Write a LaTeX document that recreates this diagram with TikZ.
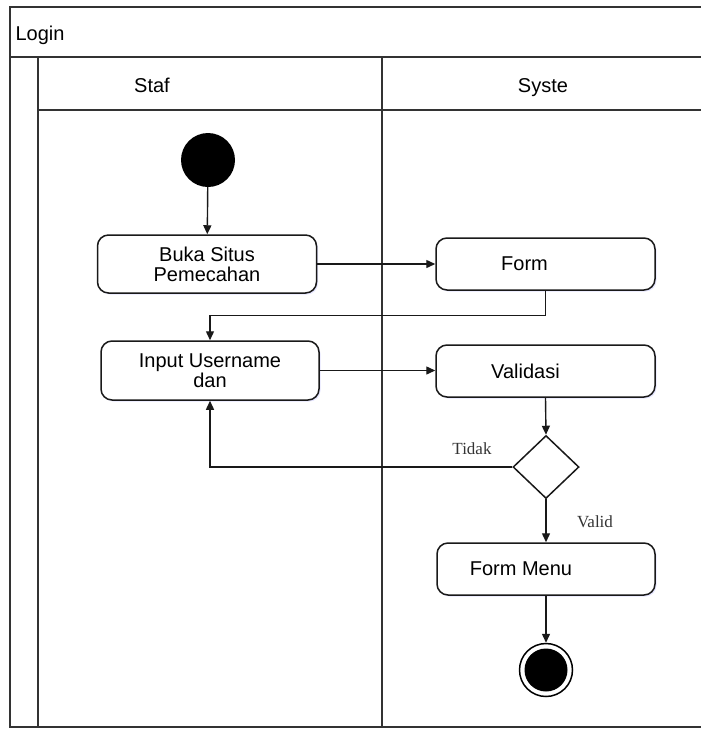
\documentclass[tikz,border=0pt]{standalone}
\usepackage{fontspec}
\setmainfont{Liberation Sans}
\newfontfamily\serifx{Liberation Serif}
\usetikzlibrary{shapes.geometric,arrows.meta,shadows}
\begin{document}
\begin{tikzpicture}[x=1pt,y=-1pt,
  frame/.style={line width=1.7pt,draw=black!80},
  act/.style={draw=black!90,line width=1.5pt,rounded corners=11pt,fill=white,
    drop shadow={shadow xshift=1.5pt,shadow yshift=-1.5pt,fill=blue!40,opacity=0.25},
    align=center,font=\fontsize{20}{20}\selectfont,inner sep=0pt},
  flow/.style={line width=1.4pt,draw=black!90,-{Triangle[length=9pt,width=8pt]}},
  lanetext/.style={font=\fontsize{20}{22}\selectfont,anchor=base},
  guard/.style={font=\serifx\fontsize{17}{18}\selectfont,text=black!80}
]
\useasboundingbox (0,0) rectangle (701,729);
% frame
\draw[frame] (701,7) -- (10,7) -- (10,727) -- (701,727);
\draw[frame] (10,57) -- (701,57);
\draw[frame] (38,57) -- (38,727);
\draw[frame] (38,110) -- (701,110);
\draw[frame] (382,57) -- (382,727);
\node[lanetext,anchor=base west] (login) at (12,40) {Login};
\node[lanetext] (staf) at (152,92) {Staf};
\node[lanetext] (syste) at (543,92) {Syste};
% nodes
\node[circle,fill=black,minimum size=54pt,inner sep=0pt] (start) at (208,160) {};
\node[act,minimum width=219pt,minimum height=58pt] (buka) at (207,264) {Buka Situs\\Pemecahan};
\node[act,minimum width=219pt,minimum height=52pt,label={[xshift=-21pt,font=\fontsize{20}{20}\selectfont]center:Form}] (form) at (545.5,264) {};
\node[act,minimum width=218pt,minimum height=59pt] (input) at (210,370.5) {Input Username\\dan};
\node[act,minimum width=219pt,minimum height=52pt,label={[xshift=-20pt,font=\fontsize{20}{20}\selectfont]center:Validasi}] (valid) at (545.5,371) {};
\node[diamond,draw=black!90,line width=1.5pt,fill=white,minimum width=66pt,minimum height=63pt,inner sep=0pt] (dec) at (546,467) {};
\node[act,minimum width=218pt,minimum height=52pt,label={[xshift=-25pt,font=\fontsize{20}{20}\selectfont]center:Form Menu}] (menu) at (546,569) {};
\node[circle,draw=black,line width=1.5pt,fill=white,minimum size=53pt,inner sep=0pt] (end) at (546,670) {};
\node[circle,fill=black,minimum size=43pt,inner sep=0pt] (endin) at (end.center) {};
% connectors
\draw[flow] (start) -- (buka);
\draw[flow] (buka.east) -- (form.west);
\draw[flow] (form.south) -- ++(0,25) -| (input.north);
\draw[flow] (input.east) -- (valid.west |- input.east);
\draw[flow] (valid.south) -- (dec.north);
\draw[flow] (dec.west) -| (input.south);
\draw[flow] (dec.south) -- (menu.north);
\draw[flow] (menu.south) -- (end.north);
\node[guard] (tidak) at (472,449) {Tidak};
\node[guard] (validlbl) at (595,522) {Valid};
\end{tikzpicture}
\end{document}
